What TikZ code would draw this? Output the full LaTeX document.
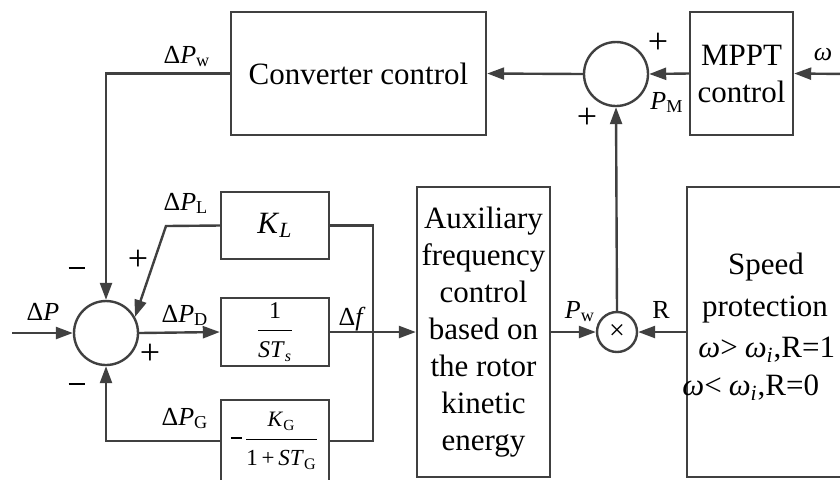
\documentclass[tikz,border=0pt]{standalone}
\usepackage{fontspec}
\setmainfont{Liberation Serif}
\usetikzlibrary{arrows.meta}
\definecolor{lc}{HTML}{404040}
\newcommand{\mainfs}{\fontsize{15.5}{18.5}\selectfont}
\newcommand{\lblfs}{\fontsize{13}{15}\selectfont}
\newcommand{\fracfs}{\fontsize{12}{14}\selectfont}
\newcommand{\sbs}[1]{\textsubscript{#1}}
\newcommand{\mbar}[1]{\rule[0.5ex]{#1}{1.1pt}}
\begin{document}
\begin{tikzpicture}[x=0.5pt,y=-0.5pt,
  ln/.style={draw=lc,line width=1.2pt},
  arr/.style={draw=lc,line width=1.2pt,-{Triangle[length=8.5pt,width=6pt]}},
  blk/.style={draw=lc,line width=1.2pt,inner sep=0pt,align=center,font=\mainfs,text=black},
  sumc/.style={circle,draw=lc,line width=1.2pt,inner sep=0pt,minimum size=32pt},
  lbl/.style={inner sep=0pt,font=\lblfs,text=black},
  sgn/.style={inner sep=0pt,font=\fontsize{18}{18}\selectfont,text=black}]
\clip (0,0) rectangle (840,479);
\fill[white] (0,0) rectangle (840,479);
% blocks
\node[blk,minimum width=127.5pt,minimum height=61.5pt] (conv) at (358.5,73.5) {Converter control};
\node[sumc] (s2) at (616,74) {};
\node[blk,minimum width=51.5pt,minimum height=61.5pt] (mppt) at (741.5,73.5) {MPPT\\control};
\coordinate (win) at (850,74);
\node[blk,minimum width=66.5pt,minimum height=145pt] (aux) at (483.5,332) {Auxiliary\\frequency\\control\\based on\\the rotor\\kinetic\\energy};
\node[sumc,minimum size=20pt] (mult) at (617,332) {\fontsize{14}{14}\selectfont ×};
\node[blk,minimum width=131.5pt,minimum height=145pt] (spd) at (818.5,332) {};
\node[inner sep=0pt,font=\mainfs] (spd1) at (766,267) {Speed};
\node[inner sep=0pt,font=\mainfs] (spd2) at (765,310) {protection};
\node[inner sep=0pt,font=\mainfs,anchor=west] (spd3) at (698,350) {\textit{ω}>\kern3.5pt\textit{ω}\sbs{\textit{i}},R=1};
\node[inner sep=0pt,font=\mainfs,anchor=west] (spd4) at (682,388) {\textit{ω}<\kern3.5pt\textit{ω}\sbs{\textit{i}},R=0};
\node[sumc] (s1) at (106,333) {};
\node[blk,minimum width=54pt,minimum height=33.5pt] (kl) at (275,225.5) {\textit{K}\sbs{\textit{L}}};
\node[blk,minimum width=54pt,minimum height=34pt] (ts) at (275,332) {$\displaystyle\frac{\mbox{\fracfs 1}}{\mbox{\fracfs\textit{ST}\sbs{\textit{s}}}}$};
\node[blk,minimum width=54pt,minimum height=41pt] (gg) at (275,441) {\mbar{5.5pt}\kern1pt$\displaystyle\frac{\mbox{\fontsize{11}{13}\selectfont\textit{K}\sbs{G}}}{\mbox{\fontsize{11.5}{13}\selectfont 1\,+\,\textit{ST}\sbs{G}}}$};
\coordinate (pin) at (12,333);
\coordinate (kbend) at (166,226);
\coordinate (jb) at (373,441);
% connectors
\draw[arr] (win) -- (mppt.east);
\draw[arr] (mppt.west) -- (s2.east);
\draw[arr] (s2.west) -- (conv.east);
\draw[arr] (mult.north) -- (s2.south);
\draw[arr] (conv.west) -| (s1.north);
\draw[arr] (kl.west) -- (kbend) -- (s1.29);
\draw[arr] (pin) -- (s1.west);
\draw[arr] (s1.east) -- (ts.west);
\draw[arr] (ts.east) -- (aux.west);
\draw[ln] (kl.east) -| (jb) -- (gg.east);
\draw[arr] (gg.west) -| (s1.south);
\draw[arr] (aux.east) -- (mult.west);
\draw[arr] (spd.west) -- (mult.east);
% labels
\node[lbl,anchor=base] (lw) at (187,63) {Δ\textit{P}\sbs{w}};
\node[lbl,anchor=base] (lL) at (186,210) {Δ\textit{P}\sbs{L}};
\node[lbl,anchor=base] (lP) at (43,320) {Δ\textit{P}};
\node[lbl,anchor=base] (lD) at (185,322) {Δ\textit{P}\sbs{D}};
\node[lbl,anchor=base] (lG) at (185,425) {Δ\textit{P}\sbs{G}};
\node[lbl,anchor=base] (lf) at (352,325) {Δ\textit{f}};
\node[lbl,anchor=base] (lPw) at (580,318) {\textit{P}\sbs{w}};
\node[lbl,anchor=base] (lR) at (661,318) {R};
\node[lbl,anchor=base] (lM) at (667,109) {\textit{P}\sbs{M}};
\node[lbl,anchor=base] (lom) at (823,60) {\textit{ω}};
\node[sgn] (p1) at (658,43) {+};
\node[sgn] (p2) at (587,118) {+};
\node[sgn] (p3) at (138,260) {+};
\node[sgn] (p4) at (150,354) {+};
\node[inner sep=0pt] (m1) at (77,268) {\rule{8.5pt}{1.3pt}};
\node[inner sep=0pt] (m2) at (77,384) {\rule{8.5pt}{1.3pt}};
\end{tikzpicture}
\end{document}
